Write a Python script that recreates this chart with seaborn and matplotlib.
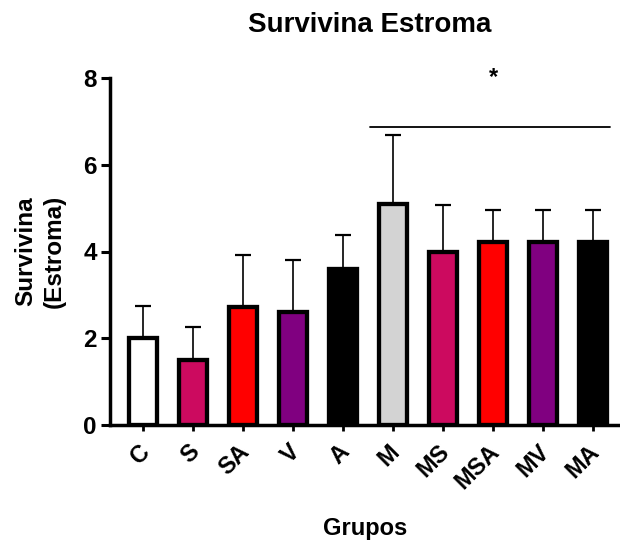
import matplotlib
matplotlib.use("Agg")
import matplotlib.pyplot as plt
import matplotlib.transforms as mtransforms
import numpy as np
import pandas as pd
import seaborn as sns

grupos = ["C", "S", "SA", "V", "A", "M", "MS", "MSA", "MV", "MA"]
medias = [2.0, 1.5, 2.72, 2.6, 3.6, 5.1, 4.0, 4.22, 4.22, 4.22]
errores = [0.75, 0.75, 1.2, 1.2, 0.77, 1.58, 1.07, 0.73, 0.73, 0.73]
colores = ["#FFFFFF", "#CC0A5F", "#FF0000", "#800080", "#000000",
           "#D3D3D3", "#CC0A5F", "#FF0000", "#800080", "#000000"]
barra_sig = ("M", "MA")
altura_sig = 6.88

sns.set_style("ticks")
plt.rcParams["font.family"] = ["Liberation Sans", "DejaVu Sans"]
plt.rcParams["font.weight"] = "bold"
plt.rcParams["text.color"] = "black"
plt.rcParams["axes.labelcolor"] = "black"
plt.rcParams["xtick.color"] = "black"
plt.rcParams["ytick.color"] = "black"
plt.rcParams["axes.edgecolor"] = "black"

df = pd.DataFrame({"grupo": grupos, "media": medias, "error": errores})

fig = plt.figure(figsize=(6.2, 5.43), dpi=100)
ax = fig.add_axes([110 / 620, 118 / 543, 510 / 620, 347 / 543])

x = np.arange(len(grupos))
ax.errorbar(x, df["media"], yerr=[np.zeros(len(grupos)), df["error"]],
            fmt="none", ecolor="black", elinewidth=1.2, capsize=6, capthick=1.6, zorder=1)
sns.barplot(data=df, x="grupo", y="media", hue="grupo", palette=colores, saturation=1,
            edgecolor="black", linewidth=3.1, width=0.56, legend=False, ax=ax, zorder=2)

ax.set_xlim(-0.66, 9.54)
ax.set_ylim(0, 8)
ax.set_yticks([0, 2, 4, 6, 8])
ax.tick_params(axis="y", labelsize=17.5, width=2.2, length=6.5, pad=3)
ax.tick_params(axis="x", labelsize=17, width=2, length=4, pad=13)
for lbl in ax.get_yticklabels():
    lbl.set_fontweight("bold")
shift = mtransforms.ScaledTranslation(3 / 100, 0, fig.dpi_scale_trans)
for lbl in ax.get_xticklabels():
    lbl.set_fontweight("bold")
    lbl.set_rotation(45)
    lbl.set_ha("right")
    lbl.set_va("center")
    lbl.set_rotation_mode("anchor")
    lbl.set_transform(lbl.get_transform() + shift)

sns.despine(ax=ax)
for s in ["left", "bottom"]:
    ax.spines[s].set_linewidth(2.5)

i0, i1 = grupos.index(barra_sig[0]), grupos.index(barra_sig[1])
ax.plot([i0 - 0.46, i1 + 0.34], [altura_sig, altura_sig], color="black", lw=1.3, clip_on=False)
ax.text((i0 + i1) / 2, altura_sig + 1.12, "*", ha="center", va="center",
        fontsize=17, fontweight="bold", clip_on=False)

ax.set_xlabel("Grupos", fontsize=17, fontweight="bold", labelpad=0)
ax.xaxis.set_label_coords(0.5, -(528 - 425) / 347)
ax.xaxis.label.set_va("center")
ax.set_ylabel("Survivina\n(Estroma)", fontsize=17.5, fontweight="bold", linespacing=1.3)
ax.yaxis.set_label_coords(-(110 - 40) / 510, 0.5)
ax.yaxis.label.set_va("center")
fig.suptitle("Survivina Estroma", x=370 / 620, y=1 - 25 / 543, va="center",
             fontsize=20, fontweight="bold")

fig.savefig("out.png", dpi=100)
